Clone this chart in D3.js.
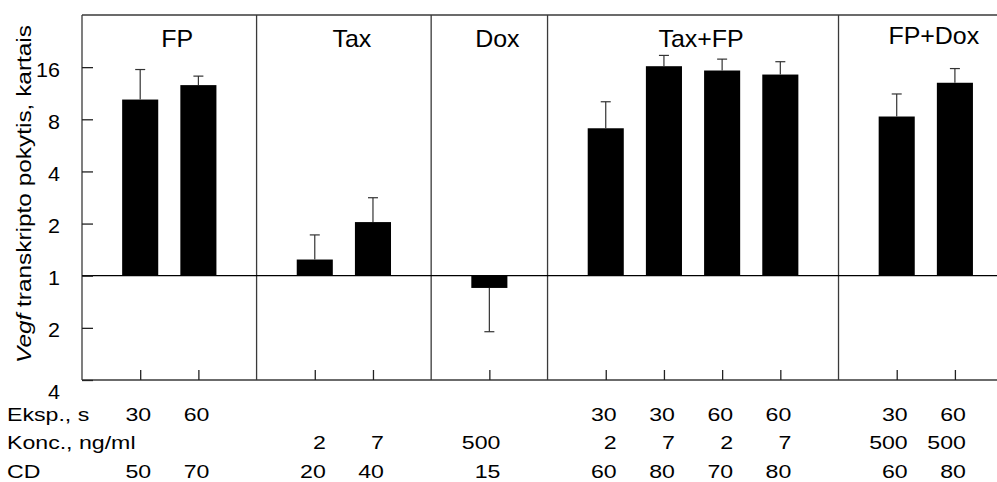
<!DOCTYPE html>
<html><head><meta charset="utf-8">
<script src="https://cdn.jsdelivr.net/npm/d3@7"></script>
<style>
body{margin:0;background:#fff}
svg{display:block;font-family:"Liberation Sans",Arial,Helvetica,sans-serif}
</style>
</head><body>
<svg id="chart" width="997" height="482"></svg>
<script>
// ---- data ----
const groups = ["FP", "Tax", "Dox", "Tax+FP", "FP+Dox"];
const groupSizes = [2, 2, 1, 4, 2];
const foldChange = [10.4, 12.6, 1.24, 2.04, 0.85, 7.1, 16.2, 15.3, 14.5, 8.3, 13.0];
const errorEnd   = [15.5, 14.2, 1.72, 2.82, 0.475, 10.1, 18.7, 17.8, 17.2, 11.2, 15.7];
const eksp = ["30", "60", "", "", "", "30", "30", "60", "60", "30", "60"];
const konc = ["", "", "2", "7", "500", "2", "7", "2", "7", "500", "500"];
const cd   = ["50", "70", "20", "40", "15", "60", "80", "70", "80", "60", "80"];
const rowLabels = ["Eksp., s", "Konc., ng/ml", "CD"];
const yTickValues = [16, 8, 4, 2, 1, 0.5, 0.25];
const yTitleItalic = "Vegf";
const yTitleRest = " transkripto pokytis, kartais";

// ---- layout ----
const W = 997, H = 482;
const mLeft = 82, mTop = 15, mBottom = 380;
const svg = d3.select("#chart");

// slot layout: each group gets n+1 slots, bars at group start + 1..n
let slot = 0;
const barSlot = [], groupEnd = [], groupBars = [];
groupSizes.forEach((n) => {
  const b = [];
  for (let j = 1; j <= n; j++) { barSlot.push(slot + j); b.push(slot + j); }
  groupBars.push(b);
  slot += n + 1;
  groupEnd.push(slot);
});

const x = d3.scaleLinear().domain([0, 15.5]).range([mLeft, 984]);
const y = d3.scaleLog().base(2).domain([0.25, 32]).range([mBottom, mTop]);
const unit = x(1) - x(0);
const barW = unit * 0.62;

const lineCol = "#3a3a3a";

// bars
const bars = barSlot.map((s, i) => ({ s, v: foldChange[i], e: errorEnd[i] }));
svg.append("g").selectAll("rect").data(bars).join("rect")
  .attr("x", d => x(d.s) - barW / 2)
  .attr("width", barW)
  .attr("y", d => d.v >= 1 ? y(d.v) : y(1))
  .attr("height", d => Math.abs(y(d.v) - y(1)))
  .attr("fill", "#000");

// error bars
const eg = svg.append("g").attr("stroke", "#333").attr("stroke-width", 1.2);
eg.selectAll("line.v").data(bars).join("line").attr("class", "v")
  .attr("x1", d => x(d.s)).attr("x2", d => x(d.s))
  .attr("y1", d => y(d.v)).attr("y2", d => y(d.e));
eg.selectAll("line.c").data(bars).join("line").attr("class", "c")
  .attr("x1", d => x(d.s) - 5).attr("x2", d => x(d.s) + 5)
  .attr("y1", d => y(d.e)).attr("y2", d => y(d.e));

// frame
const fg = svg.append("g").attr("stroke", lineCol).attr("stroke-width", 1.3).attr("fill", "none");
fg.append("line").attr("x1", mLeft).attr("x2", mLeft).attr("y1", mTop).attr("y2", mBottom);
fg.append("line").attr("x1", mLeft).attr("x2", W).attr("y1", mTop).attr("y2", mTop);
fg.append("line").attr("x1", mLeft).attr("x2", W).attr("y1", mBottom).attr("y2", mBottom);
fg.selectAll("line.div").data(groupEnd.slice(0, -1)).join("line").attr("class", "div")
  .attr("x1", d => x(d)).attr("x2", d => x(d)).attr("y1", mTop).attr("y2", mBottom);
// baseline at 1
svg.append("line").attr("x1", mLeft).attr("x2", W).attr("y1", y(1)).attr("y2", y(1))
  .attr("stroke", "#000").attr("stroke-width", 1.2);

// y axis
const yAxis = d3.axisLeft(y).tickValues(yTickValues).tickSize(-11).tickPadding(22)
  .tickFormat(d => d >= 1 ? d3.format("d")(d) : d3.format("d")(1 / d));
const ya = svg.append("g").attr("transform", `translate(${mLeft},0)`).call(yAxis);
ya.select(".domain").remove();
ya.selectAll(".tick line").attr("stroke", "#222").attr("stroke-width", 1.3);
ya.selectAll(".tick text")
  .attr("x", null).attr("dy", null)
  .attr("font-size", "20.5px").attr("fill", "#000")
  .attr("font-family", '"Liberation Sans",Arial,sans-serif')
  .attr("transform", d => `translate(-22,${d === y.domain()[0] ? 18 : 9}) scale(1.05,1)`);

// bottom ticks
const xAxis = d3.axisBottom(x).tickValues(barSlot).tickSize(-10).tickFormat("");
const xa = svg.append("g").attr("transform", `translate(0,${mBottom})`).call(xAxis);
xa.select(".domain").remove();
xa.selectAll(".tick line").attr("stroke", "#222").attr("stroke-width", 1.3);

// group labels
svg.append("g").selectAll("text").data(groups).join("text")
  .attr("transform", (d, i) => {
    const b = groupBars[i];
    const cx = (x(b[0]) + x(b[b.length - 1])) / 2 + 8;
    return `translate(${cx},${i === groups.length - 1 ? 43.5 : 46.5}) scale(1.04,1)`;
  })
  .attr("text-anchor", "middle").attr("font-size", "24px").attr("fill", "#000")
  .text(d => d);

// y title
const yt = svg.append("text")
  .attr("transform", `translate(31,194) rotate(-90) scale(1.22,1)`)
  .attr("text-anchor", "middle").attr("font-size", "20px").attr("fill", "#000");
yt.append("tspan").attr("font-style", "italic").text(yTitleItalic);
yt.append("tspan").text(yTitleRest);

// table
const rows = [
  { label: rowLabels[0], vals: eksp, ly: 421 },
  { label: rowLabels[1], vals: konc, ly: 449 },
  { label: rowLabels[2], vals: cd,   ly: 478 }
];
const tg = svg.append("g").attr("font-size", "18.5px").attr("fill", "#000");
rows.forEach(r => {
  tg.append("text").attr("transform", `translate(7,${r.ly}) scale(1.25,1)`).text(r.label);
  tg.selectAll(null).data(r.vals.map((v, i) => ({ v, s: barSlot[i] })).filter(d => d.v !== ""))
    .join("text")
    .attr("transform", d => `translate(${x(d.s) + 11},${r.ly}) scale(1.25,1)`)
    .attr("text-anchor", "end")
    .text(d => d.v);
});
</script>
</body></html>
